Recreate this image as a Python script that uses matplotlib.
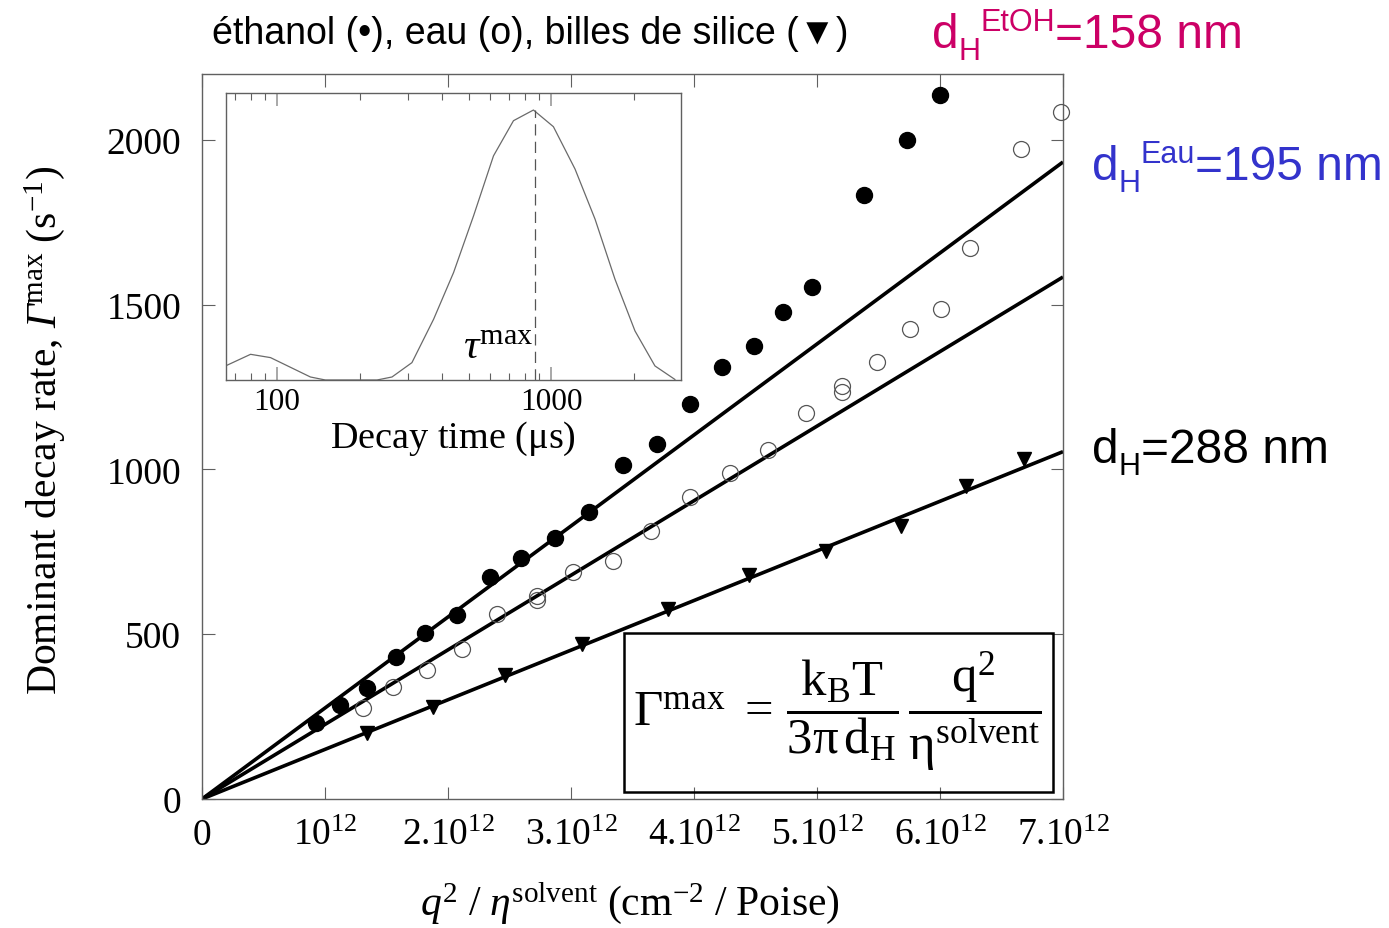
import matplotlib
matplotlib.use('Agg')
import matplotlib.pyplot as plt
from matplotlib.patches import Rectangle
from matplotlib.ticker import FixedLocator, LogLocator, NullFormatter, NullLocator

plt.rcParams.update({
    'font.family': ['Liberation Serif', 'DejaVu Serif'],
    'mathtext.fontset': 'custom',
    'mathtext.rm': 'Liberation Serif',
    'mathtext.it': 'Liberation Serif:italic',
    'mathtext.bf': 'Liberation Serif:italic',
    'mathtext.sf': 'Liberation Sans',
})

# ---------------- data ----------------
ethanol_x = [0.93, 1.12, 1.34, 1.58, 1.81, 2.07, 2.34, 2.59, 2.87, 3.15,
             3.42, 3.70, 3.97, 4.23, 4.49, 4.72, 4.96, 5.38, 5.73, 6.00]  # x 1e12
ethanol_y = [231, 285, 337, 431, 504, 558, 673, 731, 792, 871,
             1013, 1077, 1198, 1311, 1374, 1478, 1553, 1832, 1999, 2136]

water_x = [1.31, 1.55, 1.83, 2.11, 2.40, 2.72, 2.72, 3.02, 3.34, 3.65, 3.97,
           4.29, 4.60, 4.91, 5.20, 5.20, 5.49, 5.76, 6.01, 6.24, 6.66, 6.98]
water_y = [275, 339, 392, 455, 561, 604, 616, 689, 722, 813, 916,
           989, 1059, 1171, 1234, 1254, 1325, 1426, 1487, 1672, 1972, 2085]

silica_x = [1.34, 1.88, 2.46, 3.09, 3.79, 4.45, 5.07, 5.68, 6.21, 6.68]
silica_y = [200, 278, 376, 470, 576, 680, 752, 828, 950, 1032]

fit_x = [0.0, 7.0]
fit_ethanol = [0, 1933]
fit_water = [0, 1584]
fit_silica = [0, 1054]

xtick_vals = [0, 1, 2, 3, 4, 5, 6, 7]
xtick_labels = ['0', r'$\mathrm{10^{12}}$', r'$\mathrm{2.10^{12}}$', r'$\mathrm{3.10^{12}}$',
                r'$\mathrm{4.10^{12}}$', r'$\mathrm{5.10^{12}}$', r'$\mathrm{6.10^{12}}$',
                r'$\mathrm{7.10^{12}}$']
ytick_vals = [0, 500, 1000, 1500, 2000]

# inset: decay-time distribution
inset_tau = [64.8, 80.0, 94.6, 132.3, 150, 231.5, 262.6, 310.5, 372.5, 440.6, 521.2,
             616.3, 729.0, 862.1, 1019.8, 1223, 1447, 1711, 2024, 2394, 2831]
inset_amp = [0.049, 0.0895, 0.078, 0.0105, 0.0, 0.0, 0.0105, 0.0605, 0.2116, 0.3744,
             0.572, 0.781, 0.9035, 0.9407, 0.8826, 0.735, 0.5605, 0.3512, 0.171, 0.049, 0.002]
tau_max = 874.0

W, H = 1389, 929
fig = plt.figure(figsize=(W / 100, H / 100), dpi=100)

def fx(px):
    return px / W

def fy(py):
    return 1 - py / H

grey = '#606060'

# ---------------- main axes ----------------
ax = fig.add_axes([fx(202), fy(800), (1063 - 202) / W, (800 - 75) / H])
ax.plot(fit_x, fit_ethanol, color='black', lw=2.6, solid_capstyle='butt', zorder=2)
ax.plot(fit_x, fit_water, color='black', lw=2.6, solid_capstyle='butt', zorder=2)
ax.plot(fit_x, fit_silica, color='black', lw=2.6, solid_capstyle='butt', zorder=2)
ax.plot(ethanol_x, ethanol_y, 'o', ms=11.5, color='black', mec='black', zorder=3, clip_on=False)
ax.plot(water_x, water_y, 'o', ms=11.5, mfc='none', mec='#555555', mew=0.9, zorder=3, clip_on=False)
ax.plot(silica_x, silica_y, 'v', ms=10, color='black', zorder=3, clip_on=False)
ax.set_xlim(0, 7)
ax.set_ylim(0, 2200)
ax.set_xticks(xtick_vals)
ax.set_xticklabels(xtick_labels)
ax.set_yticks(ytick_vals)
ax.set_yticklabels([str(v) for v in ytick_vals])
for s in ax.spines.values():
    s.set_color(grey)
    s.set_linewidth(1.0)
ax.tick_params(direction='in', length=9, width=0.8, color=grey, top=True, right=True,
               labelsize=27, pad=13)
ax.tick_params(axis='y', pad=15)

# formula box
ax.add_patch(Rectangle((0.490, 0.0097), 0.498, 0.219, transform=ax.transAxes,
                       fill=False, lw=1.8, ec='black', zorder=4))
fig.text(fx(837), fy(712),
         r'$\Gamma^{\rm max}\ =\, \dfrac{\rm k_B T}{3\mathrm{\pi}\,\rm d_H}\,\dfrac{\rm q^2}{\mathrm{\eta}^{\rm solvent}}$',
         fontsize=36.5, ha='center', va='center')

# ---------------- inset ----------------
ins = fig.add_axes([fx(225.5), fy(381), (681 - 225.5) / W, (381 - 94) / H])
ins.set_xscale('log')
ins.plot(inset_tau, inset_amp, color='#6a6a6a', lw=0.9)
ins.plot([tau_max, tau_max], [0, 0.94], color='#555555', lw=0.9, dashes=(9, 5))
ins.set_xlim(64.8, 2980)
ins.set_ylim(0, 1)
ins.yaxis.set_major_locator(NullLocator())
ins.xaxis.set_major_locator(FixedLocator([100, 1000]))
ins.xaxis.set_minor_locator(LogLocator(base=10, subs=range(2, 10), numticks=20))
ins.xaxis.set_minor_formatter(NullFormatter())
ins.set_xticklabels(['100', '1000'])
for s in ins.spines.values():
    s.set_color(grey)
    s.set_linewidth(1.0)
ins.tick_params(axis='x', which='major', direction='in', length=9.5, width=1.2,
                color='#9a9a9a', top=True, labelsize=22.5, pad=5)
ins.tick_params(axis='x', which='minor', direction='in', length=5, width=0.8,
                color=grey, top=True)
ins.set_xlabel(r'Decay time ($\mathrm{\mu}$s)', fontsize=27.5, labelpad=2)
ins.text(860, 0.075, r'$\tau^{\rm max}$', fontsize=31, ha='right', va='baseline')

# ---------------- labels ----------------
fig.text(fx(45), fy(430), r'Dominant decay rate, $\mathbf{\Gamma}^{\rm max}\ \mathrm{(s^{-1})}$',
         rotation=90, fontsize=30, ha='center', va='center')
fig.text(fx(630), fy(903), r'$q^{2}\ /\ \eta^{\rm solvent}\ \mathrm{(cm^{-2}\ /\ Poise)}$',
         fontsize=30, ha='center', va='center')

fig.text(fx(212), fy(44), 'éthanol (•), eau (o), billes de silice (▼)',
         family=['Liberation Sans', 'DejaVu Sans'], fontsize=27, ha='left', va='baseline')

renderer = fig.canvas.get_renderer()

def compose(x, y, pieces, color):
    cur = x
    for s, size, dy in pieces:
        t = fig.text(fx(cur), fy(y + dy), s, fontsize=size, color=color,
                     family='Liberation Sans', ha='left', va='baseline')
        cur += t.get_window_extent(renderer).width

compose(932, 48, [('d', 34.5, 0), ('H', 22, 12), ('EtOH', 22, -17), ('=158 nm', 34.5, 0)], '#CC0066')
compose(1092, 180, [('d', 34.5, 0), ('H', 22, 12), ('Eau', 22, -17), ('=195 nm', 34.5, 0)], '#3333CC')
compose(1092, 463, [('d', 34.5, 0), ('H', 22, 12), ('=288 nm', 34.5, 0)], 'black')

fig.savefig('out.png', dpi=100)
